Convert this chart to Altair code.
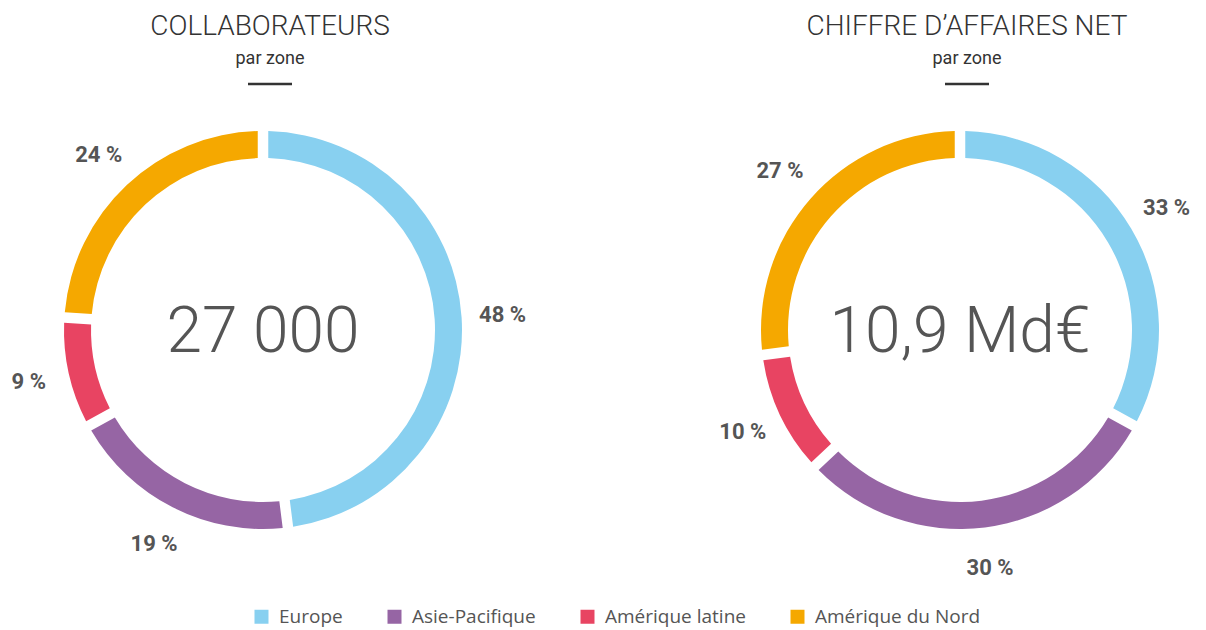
import altair as alt
import pandas as pd

# ---- data ----
zones = ["Europe", "Asie-Pacifique", "Amérique latine", "Amérique du Nord"]
zone_colors = ["#88d0f0", "#9665a4", "#e84462", "#f5a800"]
charts = ["Collaborateurs", "Chiffre d'affaires"]
chart_titles = ["COLLABORATEURS", "CHIFFRE D’AFFAIRES NET"]
chart_subtitles = ["par zone", "par zone"]
center_values = ["27 000", "10,9 Md€"]
collab_pct = [48, 19, 9, 24]
ca_pct = [33, 30, 10, 27]

rows = []
for c, vals in zip(charts, [collab_pct, ca_pct]):
    for i, (z, v) in enumerate(zip(zones, vals)):
        rows.append({"chart": c, "zone": z, "order": i, "value": v, "label": f"{v} %"})
df = pd.DataFrame(rows)
heads = pd.DataFrame({"chart": charts, "title": chart_titles,
                      "subtitle": chart_subtitles, "center": center_values})

# ---- scales ----
xscale = alt.Scale(domain=charts, range=[255, 952], type="point", padding=0)
tscale = alt.Scale(domain=[0, 100])
cscale = alt.Scale(domain=zones, range=zone_colors)
CY = 322

base = alt.Chart(df).transform_window(
    end="sum(value)", groupby=["chart"], sort=[alt.SortField("order")], frame=[None, 0]
).transform_calculate(
    start="datum.end - datum.value", mid="datum.end - datum.value / 2"
)

X = alt.X("chart:N", scale=xscale, axis=None)

arcs = base.mark_arc(innerRadius=172, outerRadius=199, padAngle=0.04).encode(
    x=X,
    y=alt.value(CY),
    theta=alt.Theta("start:Q", scale=tscale, stack=None),
    theta2="end:Q",
    color=alt.Color("zone:N", scale=cscale, legend=alt.Legend(
        orient="none", legendX=244, legendY=599, direction="horizontal",
        title=None, symbolType="square", symbolSize=196, symbolStrokeWidth=0,
        symbolOpacity=1, labelFontSize=19, labelFont="Open Sans", labelLimit=400,
        labelColor="#555555", columnPadding=42, labelOffset=8, columns=4)),
)

labels = base.mark_text(font="Roboto", fontWeight="bold", fontSize=22,
                        color="#555555", align="center", baseline="middle").encode(
    x=X,
    y=alt.value(CY),
    theta=alt.Theta("mid:Q", scale=tscale, stack=None),
    radius=alt.value(240),
    text="label:N",
)

hb = alt.Chart(heads)
center = hb.mark_text(font="Roboto", fontWeight=300, fontSize=64, color="#555555",
                      align="center", baseline="middle").encode(
    x=X, y=alt.value(CY + 3), text="center:N")

title = hb.mark_text(font="Roboto", fontWeight=300, fontSize=28, color="#333333",
                     align="center", baseline="alphabetic", xOffset=7).encode(
    x=X, y=alt.value(27), text="title:N")

subtitle = hb.mark_text(font="Roboto", fontSize=18, color="#333333",
                        align="center", baseline="alphabetic", xOffset=7).encode(
    x=X, y=alt.value(56), text="subtitle:N")

underline = hb.mark_rule(strokeWidth=2.5, color="#333333", xOffset=-15, x2Offset=29).encode(
    x=X, x2=alt.X2("chart"), y=alt.value(76))

chart = alt.layer(arcs, labels, center, title, subtitle, underline).properties(
    width=1190, height=620, padding=0,
    autosize=alt.AutoSizeParams(type="none"),
).configure_view(stroke=None)

chart.save("out.html", embed_options={"renderer": "svg", "actions": False})
